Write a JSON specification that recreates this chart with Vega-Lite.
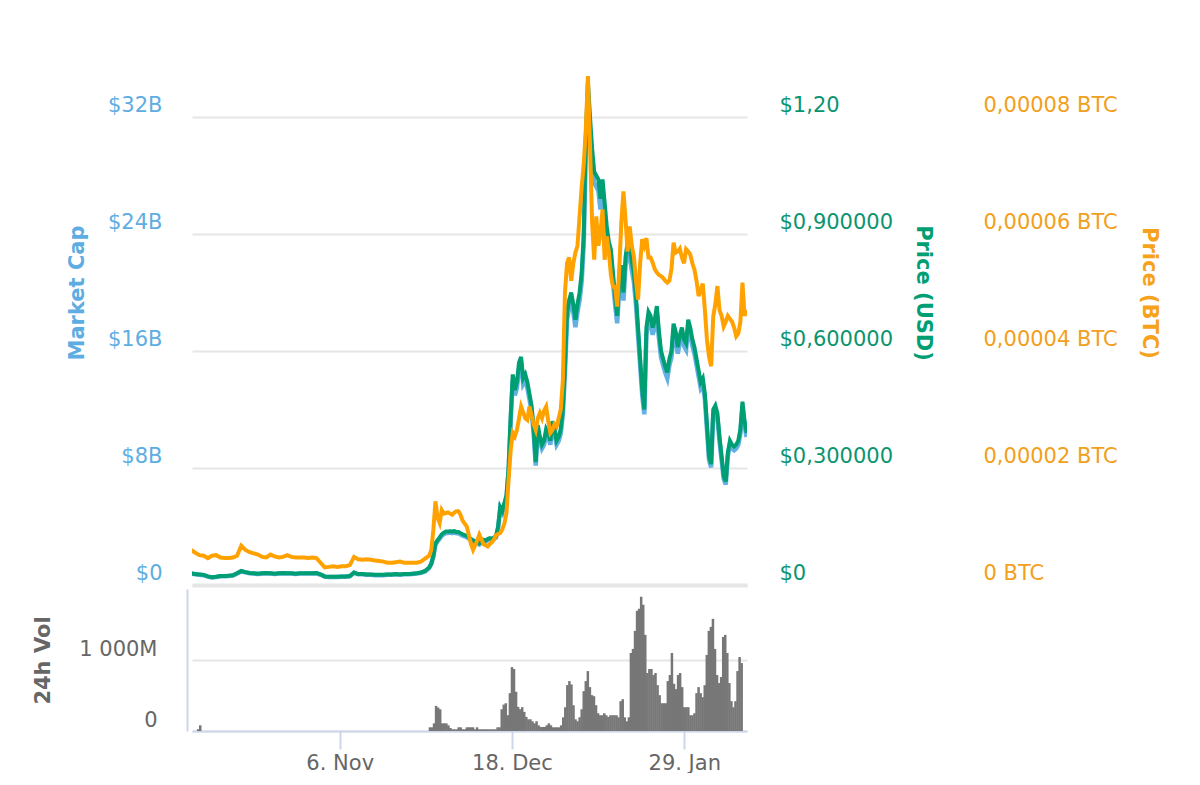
{
  "$schema": "https://vega.github.io/schema/vega-lite/v6.json",
  "padding": {"left": 32, "top": 0, "right": 12, "bottom": 0},
  "background": "white",
  "spacing": 4,
  "config": {"font": "DejaVu Sans", "view": {"stroke": null}},
  "datasets": {
    "price": [
      {"t": "2017-10-02T00:00:00Z", "usd": 0.030, "btc": 6.0e-6, "mc": 0.78},
      {"t": "2017-10-03T00:00:00Z", "usd": 0.028, "btc": 5.5e-6, "mc": 0.73},
      {"t": "2017-10-04T00:00:00Z", "usd": 0.027, "btc": 5.1e-6, "mc": 0.70},
      {"t": "2017-10-05T00:00:00Z", "usd": 0.026, "btc": 5.0e-6, "mc": 0.67},
      {"t": "2017-10-06T00:00:00Z", "usd": 0.022, "btc": 4.6e-6, "mc": 0.57},
      {"t": "2017-10-07T00:00:00Z", "usd": 0.020, "btc": 5.0e-6, "mc": 0.52},
      {"t": "2017-10-08T00:00:00Z", "usd": 0.021, "btc": 5.1e-6, "mc": 0.54},
      {"t": "2017-10-09T00:00:00Z", "usd": 0.023, "btc": 4.7e-6, "mc": 0.60},
      {"t": "2017-10-10T00:00:00Z", "usd": 0.023, "btc": 4.6e-6, "mc": 0.60},
      {"t": "2017-10-11T00:00:00Z", "usd": 0.024, "btc": 4.6e-6, "mc": 0.62},
      {"t": "2017-10-12T00:00:00Z", "usd": 0.025, "btc": 4.7e-6, "mc": 0.65},
      {"t": "2017-10-13T00:00:00Z", "usd": 0.030, "btc": 5.0e-6, "mc": 0.78},
      {"t": "2017-10-14T00:00:00Z", "usd": 0.036, "btc": 6.7e-6, "mc": 0.93},
      {"t": "2017-10-15T00:00:00Z", "usd": 0.033, "btc": 6.0e-6, "mc": 0.86},
      {"t": "2017-10-16T00:00:00Z", "usd": 0.031, "btc": 5.6e-6, "mc": 0.80},
      {"t": "2017-10-17T00:00:00Z", "usd": 0.030, "btc": 5.4e-6, "mc": 0.78},
      {"t": "2017-10-18T00:00:00Z", "usd": 0.029, "btc": 5.2e-6, "mc": 0.75},
      {"t": "2017-10-19T00:00:00Z", "usd": 0.030, "btc": 4.8e-6, "mc": 0.78},
      {"t": "2017-10-20T00:00:00Z", "usd": 0.031, "btc": 4.7e-6, "mc": 0.80},
      {"t": "2017-10-21T00:00:00Z", "usd": 0.030, "btc": 5.2e-6, "mc": 0.78},
      {"t": "2017-10-22T00:00:00Z", "usd": 0.029, "btc": 4.9e-6, "mc": 0.75},
      {"t": "2017-10-23T00:00:00Z", "usd": 0.030, "btc": 4.7e-6, "mc": 0.78},
      {"t": "2017-10-24T00:00:00Z", "usd": 0.031, "btc": 4.8e-6, "mc": 0.80},
      {"t": "2017-10-25T00:00:00Z", "usd": 0.030, "btc": 5.1e-6, "mc": 0.78},
      {"t": "2017-10-26T00:00:00Z", "usd": 0.030, "btc": 4.8e-6, "mc": 0.78},
      {"t": "2017-10-27T00:00:00Z", "usd": 0.029, "btc": 4.7e-6, "mc": 0.75},
      {"t": "2017-10-28T00:00:00Z", "usd": 0.030, "btc": 4.7e-6, "mc": 0.78},
      {"t": "2017-10-29T00:00:00Z", "usd": 0.030, "btc": 4.7e-6, "mc": 0.78},
      {"t": "2017-10-30T00:00:00Z", "usd": 0.030, "btc": 4.6e-6, "mc": 0.78},
      {"t": "2017-10-31T00:00:00Z", "usd": 0.030, "btc": 4.7e-6, "mc": 0.78},
      {"t": "2017-11-01T00:00:00Z", "usd": 0.031, "btc": 4.6e-6, "mc": 0.80},
      {"t": "2017-11-02T00:00:00Z", "usd": 0.027, "btc": 3.8e-6, "mc": 0.70},
      {"t": "2017-11-03T00:00:00Z", "usd": 0.022, "btc": 3.0e-6, "mc": 0.57},
      {"t": "2017-11-04T00:00:00Z", "usd": 0.021, "btc": 3.1e-6, "mc": 0.54},
      {"t": "2017-11-05T00:00:00Z", "usd": 0.021, "btc": 3.2e-6, "mc": 0.54},
      {"t": "2017-11-06T00:00:00Z", "usd": 0.021, "btc": 3.1e-6, "mc": 0.54},
      {"t": "2017-11-07T00:00:00Z", "usd": 0.022, "btc": 3.2e-6, "mc": 0.57},
      {"t": "2017-11-08T00:00:00Z", "usd": 0.022, "btc": 3.2e-6, "mc": 0.57},
      {"t": "2017-11-09T00:00:00Z", "usd": 0.023, "btc": 3.4e-6, "mc": 0.60},
      {"t": "2017-11-10T00:00:00Z", "usd": 0.032, "btc": 4.8e-6, "mc": 0.83},
      {"t": "2017-11-11T00:00:00Z", "usd": 0.028, "btc": 4.4e-6, "mc": 0.73},
      {"t": "2017-11-12T00:00:00Z", "usd": 0.028, "btc": 4.3e-6, "mc": 0.73},
      {"t": "2017-11-13T00:00:00Z", "usd": 0.027, "btc": 4.4e-6, "mc": 0.70},
      {"t": "2017-11-14T00:00:00Z", "usd": 0.027, "btc": 4.3e-6, "mc": 0.70},
      {"t": "2017-11-15T00:00:00Z", "usd": 0.026, "btc": 4.2e-6, "mc": 0.67},
      {"t": "2017-11-16T00:00:00Z", "usd": 0.026, "btc": 4.1e-6, "mc": 0.67},
      {"t": "2017-11-17T00:00:00Z", "usd": 0.026, "btc": 4.0e-6, "mc": 0.67},
      {"t": "2017-11-18T00:00:00Z", "usd": 0.027, "btc": 3.8e-6, "mc": 0.70},
      {"t": "2017-11-19T00:00:00Z", "usd": 0.027, "btc": 3.8e-6, "mc": 0.70},
      {"t": "2017-11-20T00:00:00Z", "usd": 0.028, "btc": 3.9e-6, "mc": 0.73},
      {"t": "2017-11-21T00:00:00Z", "usd": 0.027, "btc": 4.0e-6, "mc": 0.70},
      {"t": "2017-11-22T00:00:00Z", "usd": 0.028, "btc": 3.8e-6, "mc": 0.73},
      {"t": "2017-11-23T00:00:00Z", "usd": 0.028, "btc": 3.8e-6, "mc": 0.73},
      {"t": "2017-11-24T00:00:00Z", "usd": 0.029, "btc": 3.8e-6, "mc": 0.75},
      {"t": "2017-11-25T00:00:00Z", "usd": 0.030, "btc": 3.8e-6, "mc": 0.78},
      {"t": "2017-11-26T00:00:00Z", "usd": 0.032, "btc": 4.0e-6, "mc": 0.83},
      {"t": "2017-11-27T00:00:00Z", "usd": 0.036, "btc": 4.5e-6, "mc": 0.93},
      {"t": "2017-11-28T00:00:00Z", "usd": 0.045, "btc": 5.0e-6, "mc": 1.17},
      {"t": "2017-11-28T12:00:00Z", "usd": 0.055, "btc": 6.0e-6, "mc": 1.43},
      {"t": "2017-11-29T00:00:00Z", "usd": 0.075, "btc": 9.5e-6, "mc": 1.94},
      {"t": "2017-11-29T12:00:00Z", "usd": 0.107, "btc": 14.3e-6, "mc": 2.77},
      {"t": "2017-11-30T00:00:00Z", "usd": 0.115, "btc": 11.5e-6, "mc": 2.98},
      {"t": "2017-11-30T12:00:00Z", "usd": 0.122, "btc": 10.6e-6, "mc": 3.16},
      {"t": "2017-12-01T00:00:00Z", "usd": 0.130, "btc": 12.8e-6, "mc": 3.37},
      {"t": "2017-12-01T12:00:00Z", "usd": 0.134, "btc": 12.2e-6, "mc": 3.47},
      {"t": "2017-12-02T00:00:00Z", "usd": 0.137, "btc": 12.3e-6, "mc": 3.55},
      {"t": "2017-12-02T12:00:00Z", "usd": 0.137, "btc": 12.4e-6, "mc": 3.55},
      {"t": "2017-12-03T00:00:00Z", "usd": 0.138, "btc": 12.2e-6, "mc": 3.58},
      {"t": "2017-12-03T12:00:00Z", "usd": 0.137, "btc": 12.0e-6, "mc": 3.55},
      {"t": "2017-12-04T00:00:00Z", "usd": 0.138, "btc": 12.4e-6, "mc": 3.58},
      {"t": "2017-12-04T12:00:00Z", "usd": 0.136, "btc": 12.6e-6, "mc": 3.53},
      {"t": "2017-12-05T00:00:00Z", "usd": 0.136, "btc": 12.6e-6, "mc": 3.53},
      {"t": "2017-12-05T12:00:00Z", "usd": 0.133, "btc": 12.0e-6, "mc": 3.45},
      {"t": "2017-12-06T00:00:00Z", "usd": 0.130, "btc": 11.0e-6, "mc": 3.37},
      {"t": "2017-12-06T12:00:00Z", "usd": 0.128, "btc": 10.5e-6, "mc": 3.32},
      {"t": "2017-12-07T00:00:00Z", "usd": 0.126, "btc": 10.0e-6, "mc": 3.27},
      {"t": "2017-12-07T12:00:00Z", "usd": 0.122, "btc": 8.5e-6, "mc": 3.16},
      {"t": "2017-12-08T00:00:00Z", "usd": 0.118, "btc": 7.0e-6, "mc": 3.06},
      {"t": "2017-12-08T12:00:00Z", "usd": 0.115, "btc": 6.0e-6, "mc": 2.98},
      {"t": "2017-12-09T00:00:00Z", "usd": 0.112, "btc": 6.8e-6, "mc": 2.90},
      {"t": "2017-12-09T12:00:00Z", "usd": 0.110, "btc": 7.6e-6, "mc": 2.85},
      {"t": "2017-12-10T00:00:00Z", "usd": 0.107, "btc": 8.6e-6, "mc": 2.77},
      {"t": "2017-12-10T12:00:00Z", "usd": 0.112, "btc": 7.8e-6, "mc": 2.90},
      {"t": "2017-12-11T00:00:00Z", "usd": 0.116, "btc": 7.0e-6, "mc": 3.01},
      {"t": "2017-12-11T12:00:00Z", "usd": 0.114, "btc": 6.8e-6, "mc": 2.96},
      {"t": "2017-12-12T00:00:00Z", "usd": 0.118, "btc": 6.6e-6, "mc": 3.06},
      {"t": "2017-12-12T12:00:00Z", "usd": 0.120, "btc": 7.0e-6, "mc": 3.11},
      {"t": "2017-12-13T00:00:00Z", "usd": 0.118, "btc": 7.3e-6, "mc": 3.06},
      {"t": "2017-12-13T12:00:00Z", "usd": 0.122, "btc": 7.8e-6, "mc": 3.16},
      {"t": "2017-12-14T00:00:00Z", "usd": 0.125, "btc": 8.5e-6, "mc": 3.24},
      {"t": "2017-12-14T12:00:00Z", "usd": 0.150, "btc": 8.7e-6, "mc": 3.89},
      {"t": "2017-12-15T00:00:00Z", "usd": 0.200, "btc": 8.9e-6, "mc": 5.19},
      {"t": "2017-12-15T12:00:00Z", "usd": 0.190, "btc": 9.5e-6, "mc": 4.93},
      {"t": "2017-12-16T00:00:00Z", "usd": 0.210, "btc": 10.5e-6, "mc": 5.45},
      {"t": "2017-12-16T12:00:00Z", "usd": 0.230, "btc": 12.3e-6, "mc": 5.96},
      {"t": "2017-12-17T00:00:00Z", "usd": 0.300, "btc": 18.0e-6, "mc": 7.78},
      {"t": "2017-12-17T12:00:00Z", "usd": 0.430, "btc": 23.0e-6, "mc": 11.15},
      {"t": "2017-12-18T00:00:00Z", "usd": 0.540, "btc": 26.0e-6, "mc": 14.00},
      {"t": "2017-12-18T12:00:00Z", "usd": 0.500, "btc": 25.4e-6, "mc": 12.97},
      {"t": "2017-12-19T00:00:00Z", "usd": 0.520, "btc": 26.5e-6, "mc": 13.48},
      {"t": "2017-12-19T12:00:00Z", "usd": 0.570, "btc": 28.5e-6, "mc": 14.78},
      {"t": "2017-12-20T00:00:00Z", "usd": 0.585, "btc": 30.5e-6, "mc": 15.17},
      {"t": "2017-12-20T12:00:00Z", "usd": 0.530, "btc": 29.5e-6, "mc": 13.74},
      {"t": "2017-12-21T00:00:00Z", "usd": 0.540, "btc": 28.5e-6, "mc": 14.00},
      {"t": "2017-12-21T12:00:00Z", "usd": 0.520, "btc": 28.2e-6, "mc": 13.48},
      {"t": "2017-12-22T00:00:00Z", "usd": 0.490, "btc": 30.5e-6, "mc": 12.71},
      {"t": "2017-12-22T12:00:00Z", "usd": 0.460, "btc": 29.0e-6, "mc": 11.93},
      {"t": "2017-12-23T00:00:00Z", "usd": 0.400, "btc": 27.5e-6, "mc": 10.37},
      {"t": "2017-12-23T12:00:00Z", "usd": 0.315, "btc": 26.5e-6, "mc": 8.17},
      {"t": "2017-12-24T00:00:00Z", "usd": 0.410, "btc": 28.5e-6, "mc": 10.63},
      {"t": "2017-12-24T12:00:00Z", "usd": 0.380, "btc": 29.4e-6, "mc": 9.85},
      {"t": "2017-12-25T00:00:00Z", "usd": 0.360, "btc": 28.5e-6, "mc": 9.33},
      {"t": "2017-12-25T12:00:00Z", "usd": 0.370, "btc": 29.8e-6, "mc": 9.59},
      {"t": "2017-12-26T00:00:00Z", "usd": 0.400, "btc": 30.5e-6, "mc": 10.37},
      {"t": "2017-12-26T12:00:00Z", "usd": 0.390, "btc": 28.0e-6, "mc": 10.11},
      {"t": "2017-12-27T00:00:00Z", "usd": 0.370, "btc": 26.0e-6, "mc": 9.59},
      {"t": "2017-12-27T12:00:00Z", "usd": 0.420, "btc": 26.5e-6, "mc": 10.89},
      {"t": "2017-12-28T00:00:00Z", "usd": 0.400, "btc": 27.5e-6, "mc": 10.37},
      {"t": "2017-12-28T12:00:00Z", "usd": 0.370, "btc": 27.1e-6, "mc": 9.59},
      {"t": "2017-12-29T00:00:00Z", "usd": 0.380, "btc": 28.5e-6, "mc": 9.85},
      {"t": "2017-12-29T12:00:00Z", "usd": 0.400, "btc": 30.0e-6, "mc": 10.37},
      {"t": "2017-12-30T00:00:00Z", "usd": 0.450, "btc": 35.0e-6, "mc": 11.67},
      {"t": "2017-12-30T12:00:00Z", "usd": 0.560, "btc": 50.0e-6, "mc": 14.52},
      {"t": "2017-12-31T00:00:00Z", "usd": 0.700, "btc": 55.0e-6, "mc": 18.15},
      {"t": "2017-12-31T12:00:00Z", "usd": 0.730, "btc": 56.0e-6, "mc": 18.93},
      {"t": "2018-01-01T00:00:00Z", "usd": 0.750, "btc": 52.0e-6, "mc": 19.45},
      {"t": "2018-01-01T12:00:00Z", "usd": 0.720, "btc": 55.0e-6, "mc": 18.67},
      {"t": "2018-01-02T00:00:00Z", "usd": 0.680, "btc": 56.8e-6, "mc": 17.63},
      {"t": "2018-01-02T12:00:00Z", "usd": 0.720, "btc": 58.0e-6, "mc": 18.67},
      {"t": "2018-01-03T00:00:00Z", "usd": 0.750, "btc": 63.0e-6, "mc": 19.45},
      {"t": "2018-01-03T12:00:00Z", "usd": 0.800, "btc": 68.0e-6, "mc": 20.74},
      {"t": "2018-01-04T00:00:00Z", "usd": 0.900, "btc": 72.0e-6, "mc": 23.34},
      {"t": "2018-01-04T12:00:00Z", "usd": 1.150, "btc": 78.0e-6, "mc": 29.82},
      {"t": "2018-01-05T00:00:00Z", "usd": 1.290, "btc": 87.0e-6, "mc": 33.45},
      {"t": "2018-01-05T12:00:00Z", "usd": 1.200, "btc": 75.0e-6, "mc": 31.12},
      {"t": "2018-01-06T00:00:00Z", "usd": 1.120, "btc": 62.0e-6, "mc": 29.04},
      {"t": "2018-01-06T12:00:00Z", "usd": 1.060, "btc": 55.6e-6, "mc": 27.49},
      {"t": "2018-01-07T00:00:00Z", "usd": 1.050, "btc": 63.0e-6, "mc": 27.23},
      {"t": "2018-01-07T12:00:00Z", "usd": 1.040, "btc": 58.0e-6, "mc": 26.97},
      {"t": "2018-01-08T00:00:00Z", "usd": 0.990, "btc": 60.2e-6, "mc": 25.67},
      {"t": "2018-01-08T12:00:00Z", "usd": 1.040, "btc": 64.2e-6, "mc": 26.97},
      {"t": "2018-01-09T00:00:00Z", "usd": 0.980, "btc": 55.6e-6, "mc": 25.41},
      {"t": "2018-01-09T12:00:00Z", "usd": 0.920, "btc": 59.6e-6, "mc": 23.86},
      {"t": "2018-01-10T00:00:00Z", "usd": 0.880, "btc": 57.0e-6, "mc": 22.82},
      {"t": "2018-01-10T12:00:00Z", "usd": 0.860, "btc": 53.0e-6, "mc": 22.30},
      {"t": "2018-01-11T00:00:00Z", "usd": 0.800, "btc": 51.0e-6, "mc": 20.74},
      {"t": "2018-01-11T12:00:00Z", "usd": 0.740, "btc": 51.0e-6, "mc": 19.19},
      {"t": "2018-01-12T00:00:00Z", "usd": 0.690, "btc": 47.6e-6, "mc": 17.89},
      {"t": "2018-01-12T12:00:00Z", "usd": 0.780, "btc": 54.0e-6, "mc": 20.23},
      {"t": "2018-01-13T00:00:00Z", "usd": 0.820, "btc": 62.0e-6, "mc": 21.26},
      {"t": "2018-01-13T12:00:00Z", "usd": 0.750, "btc": 67.3e-6, "mc": 19.45},
      {"t": "2018-01-14T00:00:00Z", "usd": 0.840, "btc": 62.5e-6, "mc": 21.78},
      {"t": "2018-01-14T12:00:00Z", "usd": 0.880, "btc": 57.0e-6, "mc": 22.82},
      {"t": "2018-01-15T00:00:00Z", "usd": 0.870, "btc": 61.3e-6, "mc": 22.56},
      {"t": "2018-01-15T12:00:00Z", "usd": 0.830, "btc": 58.0e-6, "mc": 21.52},
      {"t": "2018-01-16T00:00:00Z", "usd": 0.800, "btc": 56.2e-6, "mc": 20.74},
      {"t": "2018-01-16T12:00:00Z", "usd": 0.740, "btc": 52.0e-6, "mc": 19.19},
      {"t": "2018-01-17T00:00:00Z", "usd": 0.660, "btc": 48.8e-6, "mc": 17.11},
      {"t": "2018-01-17T12:00:00Z", "usd": 0.580, "btc": 55.0e-6, "mc": 15.04},
      {"t": "2018-01-18T00:00:00Z", "usd": 0.500, "btc": 59.1e-6, "mc": 12.97},
      {"t": "2018-01-18T12:00:00Z", "usd": 0.450, "btc": 58.0e-6, "mc": 11.67},
      {"t": "2018-01-19T00:00:00Z", "usd": 0.660, "btc": 59.3e-6, "mc": 17.11},
      {"t": "2018-01-19T12:00:00Z", "usd": 0.700, "btc": 56.0e-6, "mc": 18.15},
      {"t": "2018-01-20T00:00:00Z", "usd": 0.690, "btc": 56.0e-6, "mc": 17.89},
      {"t": "2018-01-20T12:00:00Z", "usd": 0.660, "btc": 55.1e-6, "mc": 17.11},
      {"t": "2018-01-21T00:00:00Z", "usd": 0.680, "btc": 54.0e-6, "mc": 17.63},
      {"t": "2018-01-21T12:00:00Z", "usd": 0.715, "btc": 53.4e-6, "mc": 18.54},
      {"t": "2018-01-22T00:00:00Z", "usd": 0.650, "btc": 53.0e-6, "mc": 16.85},
      {"t": "2018-01-22T12:00:00Z", "usd": 0.600, "btc": 52.8e-6, "mc": 15.56},
      {"t": "2018-01-23T00:00:00Z", "usd": 0.580, "btc": 52.5e-6, "mc": 15.04},
      {"t": "2018-01-23T12:00:00Z", "usd": 0.560, "btc": 52.0e-6, "mc": 14.52},
      {"t": "2018-01-24T00:00:00Z", "usd": 0.545, "btc": 51.7e-6, "mc": 14.13},
      {"t": "2018-01-24T12:00:00Z", "usd": 0.580, "btc": 52.0e-6, "mc": 15.04},
      {"t": "2018-01-25T00:00:00Z", "usd": 0.600, "btc": 54.0e-6, "mc": 15.56},
      {"t": "2018-01-25T12:00:00Z", "usd": 0.670, "btc": 58.5e-6, "mc": 17.37},
      {"t": "2018-01-26T00:00:00Z", "usd": 0.650, "btc": 56.8e-6, "mc": 16.85},
      {"t": "2018-01-26T12:00:00Z", "usd": 0.610, "btc": 57.0e-6, "mc": 15.82},
      {"t": "2018-01-27T00:00:00Z", "usd": 0.640, "btc": 57.5e-6, "mc": 16.60},
      {"t": "2018-01-27T12:00:00Z", "usd": 0.660, "btc": 56.0e-6, "mc": 17.11},
      {"t": "2018-01-28T00:00:00Z", "usd": 0.630, "btc": 55.0e-6, "mc": 16.34},
      {"t": "2018-01-28T12:00:00Z", "usd": 0.620, "btc": 57.4e-6, "mc": 16.08},
      {"t": "2018-01-29T00:00:00Z", "usd": 0.680, "btc": 57.0e-6, "mc": 17.63},
      {"t": "2018-01-29T12:00:00Z", "usd": 0.660, "btc": 56.5e-6, "mc": 17.11},
      {"t": "2018-01-30T00:00:00Z", "usd": 0.630, "btc": 55.0e-6, "mc": 16.34},
      {"t": "2018-01-30T12:00:00Z", "usd": 0.610, "btc": 53.9e-6, "mc": 15.82},
      {"t": "2018-01-31T00:00:00Z", "usd": 0.580, "btc": 52.0e-6, "mc": 15.04},
      {"t": "2018-01-31T12:00:00Z", "usd": 0.550, "btc": 49.4e-6, "mc": 14.26},
      {"t": "2018-02-01T00:00:00Z", "usd": 0.520, "btc": 50.5e-6, "mc": 13.48},
      {"t": "2018-02-01T12:00:00Z", "usd": 0.530, "btc": 51.5e-6, "mc": 13.74},
      {"t": "2018-02-02T00:00:00Z", "usd": 0.490, "btc": 47.0e-6, "mc": 12.71},
      {"t": "2018-02-02T12:00:00Z", "usd": 0.410, "btc": 41.9e-6, "mc": 10.63},
      {"t": "2018-02-03T00:00:00Z", "usd": 0.330, "btc": 39.0e-6, "mc": 8.56},
      {"t": "2018-02-03T12:00:00Z", "usd": 0.310, "btc": 37.4e-6, "mc": 8.04},
      {"t": "2018-02-04T00:00:00Z", "usd": 0.450, "btc": 45.9e-6, "mc": 11.67},
      {"t": "2018-02-04T12:00:00Z", "usd": 0.460, "btc": 48.0e-6, "mc": 11.93},
      {"t": "2018-02-05T00:00:00Z", "usd": 0.440, "btc": 51.1e-6, "mc": 11.41},
      {"t": "2018-02-05T12:00:00Z", "usd": 0.380, "btc": 47.0e-6, "mc": 9.85},
      {"t": "2018-02-06T00:00:00Z", "usd": 0.330, "btc": 46.0e-6, "mc": 8.56},
      {"t": "2018-02-06T12:00:00Z", "usd": 0.280, "btc": 44.2e-6, "mc": 7.26},
      {"t": "2018-02-07T00:00:00Z", "usd": 0.265, "btc": 45.0e-6, "mc": 6.87},
      {"t": "2018-02-07T12:00:00Z", "usd": 0.340, "btc": 46.0e-6, "mc": 8.82},
      {"t": "2018-02-08T00:00:00Z", "usd": 0.370, "btc": 45.5e-6, "mc": 9.59},
      {"t": "2018-02-08T12:00:00Z", "usd": 0.360, "btc": 45.0e-6, "mc": 9.33},
      {"t": "2018-02-09T00:00:00Z", "usd": 0.355, "btc": 44.0e-6, "mc": 9.21},
      {"t": "2018-02-09T12:00:00Z", "usd": 0.360, "btc": 42.5e-6, "mc": 9.33},
      {"t": "2018-02-10T00:00:00Z", "usd": 0.370, "btc": 43.0e-6, "mc": 9.59},
      {"t": "2018-02-10T12:00:00Z", "usd": 0.400, "btc": 45.0e-6, "mc": 10.37},
      {"t": "2018-02-11T00:00:00Z", "usd": 0.470, "btc": 51.7e-6, "mc": 12.19},
      {"t": "2018-02-11T12:00:00Z", "usd": 0.420, "btc": 46.0e-6, "mc": 10.89},
      {"t": "2018-02-12T00:00:00Z", "usd": 0.390, "btc": 47.0e-6, "mc": 10.11}
    ],
    "vol": [
      {"t": "2017-10-02T12:00:00Z", "v": 25},
      {"t": "2017-10-03T00:00:00Z", "v": 80},
      {"t": "2017-11-28T00:00:00Z", "v": 52},
      {"t": "2017-11-28T12:00:00Z", "v": 52},
      {"t": "2017-11-29T00:00:00Z", "v": 108},
      {"t": "2017-11-29T12:00:00Z", "v": 354},
      {"t": "2017-11-30T00:00:00Z", "v": 330},
      {"t": "2017-11-30T12:00:00Z", "v": 306},
      {"t": "2017-12-01T00:00:00Z", "v": 108},
      {"t": "2017-12-01T12:00:00Z", "v": 108},
      {"t": "2017-12-02T00:00:00Z", "v": 108},
      {"t": "2017-12-02T12:00:00Z", "v": 80},
      {"t": "2017-12-03T00:00:00Z", "v": 42},
      {"t": "2017-12-03T12:00:00Z", "v": 24},
      {"t": "2017-12-04T00:00:00Z", "v": 24},
      {"t": "2017-12-04T12:00:00Z", "v": 24},
      {"t": "2017-12-05T00:00:00Z", "v": 52},
      {"t": "2017-12-05T12:00:00Z", "v": 52},
      {"t": "2017-12-06T00:00:00Z", "v": 24},
      {"t": "2017-12-06T12:00:00Z", "v": 24},
      {"t": "2017-12-07T00:00:00Z", "v": 52},
      {"t": "2017-12-07T12:00:00Z", "v": 52},
      {"t": "2017-12-08T00:00:00Z", "v": 52},
      {"t": "2017-12-08T12:00:00Z", "v": 52},
      {"t": "2017-12-09T00:00:00Z", "v": 24},
      {"t": "2017-12-09T12:00:00Z", "v": 52},
      {"t": "2017-12-10T00:00:00Z", "v": 24},
      {"t": "2017-12-10T12:00:00Z", "v": 24},
      {"t": "2017-12-11T00:00:00Z", "v": 24},
      {"t": "2017-12-11T12:00:00Z", "v": 24},
      {"t": "2017-12-12T00:00:00Z", "v": 24},
      {"t": "2017-12-12T12:00:00Z", "v": 24},
      {"t": "2017-12-13T00:00:00Z", "v": 24},
      {"t": "2017-12-13T12:00:00Z", "v": 24},
      {"t": "2017-12-14T00:00:00Z", "v": 24},
      {"t": "2017-12-14T12:00:00Z", "v": 52},
      {"t": "2017-12-15T00:00:00Z", "v": 52},
      {"t": "2017-12-15T12:00:00Z", "v": 306},
      {"t": "2017-12-16T00:00:00Z", "v": 372},
      {"t": "2017-12-16T12:00:00Z", "v": 391},
      {"t": "2017-12-17T00:00:00Z", "v": 222},
      {"t": "2017-12-17T12:00:00Z", "v": 533},
      {"t": "2017-12-18T00:00:00Z", "v": 900},
      {"t": "2017-12-18T12:00:00Z", "v": 873},
      {"t": "2017-12-19T00:00:00Z", "v": 552},
      {"t": "2017-12-19T12:00:00Z", "v": 340},
      {"t": "2017-12-20T00:00:00Z", "v": 306},
      {"t": "2017-12-20T12:00:00Z", "v": 335},
      {"t": "2017-12-21T00:00:00Z", "v": 269},
      {"t": "2017-12-21T12:00:00Z", "v": 198},
      {"t": "2017-12-22T00:00:00Z", "v": 165},
      {"t": "2017-12-22T12:00:00Z", "v": 165},
      {"t": "2017-12-23T00:00:00Z", "v": 137},
      {"t": "2017-12-23T12:00:00Z", "v": 108},
      {"t": "2017-12-24T00:00:00Z", "v": 137},
      {"t": "2017-12-24T12:00:00Z", "v": 80},
      {"t": "2017-12-25T00:00:00Z", "v": 57},
      {"t": "2017-12-25T12:00:00Z", "v": 57},
      {"t": "2017-12-26T00:00:00Z", "v": 57},
      {"t": "2017-12-26T12:00:00Z", "v": 80},
      {"t": "2017-12-27T00:00:00Z", "v": 108},
      {"t": "2017-12-27T12:00:00Z", "v": 80},
      {"t": "2017-12-28T00:00:00Z", "v": 52},
      {"t": "2017-12-28T12:00:00Z", "v": 52},
      {"t": "2017-12-29T00:00:00Z", "v": 52},
      {"t": "2017-12-29T12:00:00Z", "v": 52},
      {"t": "2017-12-30T00:00:00Z", "v": 80},
      {"t": "2017-12-30T12:00:00Z", "v": 193},
      {"t": "2017-12-31T00:00:00Z", "v": 335},
      {"t": "2017-12-31T12:00:00Z", "v": 646},
      {"t": "2018-01-01T00:00:00Z", "v": 703},
      {"t": "2018-01-01T12:00:00Z", "v": 656},
      {"t": "2018-01-02T00:00:00Z", "v": 363},
      {"t": "2018-01-02T12:00:00Z", "v": 165},
      {"t": "2018-01-03T00:00:00Z", "v": 137},
      {"t": "2018-01-03T12:00:00Z", "v": 193},
      {"t": "2018-01-04T00:00:00Z", "v": 306},
      {"t": "2018-01-04T12:00:00Z", "v": 561},
      {"t": "2018-01-05T00:00:00Z", "v": 703},
      {"t": "2018-01-05T12:00:00Z", "v": 844},
      {"t": "2018-01-06T00:00:00Z", "v": 618},
      {"t": "2018-01-06T12:00:00Z", "v": 505},
      {"t": "2018-01-07T00:00:00Z", "v": 490},
      {"t": "2018-01-07T12:00:00Z", "v": 363},
      {"t": "2018-01-08T00:00:00Z", "v": 250},
      {"t": "2018-01-08T12:00:00Z", "v": 222},
      {"t": "2018-01-09T00:00:00Z", "v": 222},
      {"t": "2018-01-09T12:00:00Z", "v": 250},
      {"t": "2018-01-10T00:00:00Z", "v": 222},
      {"t": "2018-01-10T12:00:00Z", "v": 198},
      {"t": "2018-01-11T00:00:00Z", "v": 222},
      {"t": "2018-01-11T12:00:00Z", "v": 222},
      {"t": "2018-01-12T00:00:00Z", "v": 222},
      {"t": "2018-01-12T12:00:00Z", "v": 222},
      {"t": "2018-01-13T00:00:00Z", "v": 193},
      {"t": "2018-01-13T12:00:00Z", "v": 420},
      {"t": "2018-01-14T00:00:00Z", "v": 448},
      {"t": "2018-01-14T12:00:00Z", "v": 193},
      {"t": "2018-01-15T00:00:00Z", "v": 137},
      {"t": "2018-01-15T12:00:00Z", "v": 193},
      {"t": "2018-01-16T00:00:00Z", "v": 1099},
      {"t": "2018-01-16T12:00:00Z", "v": 1156},
      {"t": "2018-01-17T00:00:00Z", "v": 1410},
      {"t": "2018-01-17T12:00:00Z", "v": 1693},
      {"t": "2018-01-18T00:00:00Z", "v": 1722},
      {"t": "2018-01-18T12:00:00Z", "v": 1891},
      {"t": "2018-01-19T00:00:00Z", "v": 1778},
      {"t": "2018-01-19T12:00:00Z", "v": 1354},
      {"t": "2018-01-20T00:00:00Z", "v": 816},
      {"t": "2018-01-20T12:00:00Z", "v": 873},
      {"t": "2018-01-21T00:00:00Z", "v": 873},
      {"t": "2018-01-21T12:00:00Z", "v": 788},
      {"t": "2018-01-22T00:00:00Z", "v": 816},
      {"t": "2018-01-22T12:00:00Z", "v": 646},
      {"t": "2018-01-23T00:00:00Z", "v": 505},
      {"t": "2018-01-23T12:00:00Z", "v": 391},
      {"t": "2018-01-24T00:00:00Z", "v": 391},
      {"t": "2018-01-24T12:00:00Z", "v": 391},
      {"t": "2018-01-25T00:00:00Z", "v": 703},
      {"t": "2018-01-25T12:00:00Z", "v": 788},
      {"t": "2018-01-26T00:00:00Z", "v": 1099},
      {"t": "2018-01-26T12:00:00Z", "v": 665},
      {"t": "2018-01-27T00:00:00Z", "v": 590},
      {"t": "2018-01-27T12:00:00Z", "v": 788},
      {"t": "2018-01-28T00:00:00Z", "v": 816},
      {"t": "2018-01-28T12:00:00Z", "v": 618},
      {"t": "2018-01-29T00:00:00Z", "v": 335},
      {"t": "2018-01-29T12:00:00Z", "v": 335},
      {"t": "2018-01-30T00:00:00Z", "v": 335},
      {"t": "2018-01-30T12:00:00Z", "v": 222},
      {"t": "2018-01-31T00:00:00Z", "v": 222},
      {"t": "2018-01-31T12:00:00Z", "v": 250},
      {"t": "2018-02-01T00:00:00Z", "v": 533},
      {"t": "2018-02-01T12:00:00Z", "v": 618},
      {"t": "2018-02-02T00:00:00Z", "v": 533},
      {"t": "2018-02-02T12:00:00Z", "v": 476},
      {"t": "2018-02-03T00:00:00Z", "v": 646},
      {"t": "2018-02-03T12:00:00Z", "v": 1071},
      {"t": "2018-02-04T00:00:00Z", "v": 1410},
      {"t": "2018-02-04T12:00:00Z", "v": 1467},
      {"t": "2018-02-05T00:00:00Z", "v": 1580},
      {"t": "2018-02-05T12:00:00Z", "v": 1156},
      {"t": "2018-02-06T00:00:00Z", "v": 788},
      {"t": "2018-02-06T12:00:00Z", "v": 675},
      {"t": "2018-02-07T00:00:00Z", "v": 760},
      {"t": "2018-02-07T12:00:00Z", "v": 1325},
      {"t": "2018-02-08T00:00:00Z", "v": 1354},
      {"t": "2018-02-08T12:00:00Z", "v": 1099},
      {"t": "2018-02-09T00:00:00Z", "v": 675},
      {"t": "2018-02-09T12:00:00Z", "v": 420},
      {"t": "2018-02-10T00:00:00Z", "v": 335},
      {"t": "2018-02-10T12:00:00Z", "v": 420},
      {"t": "2018-02-11T00:00:00Z", "v": 844},
      {"t": "2018-02-11T12:00:00Z", "v": 1042},
      {"t": "2018-02-12T00:00:00Z", "v": 957}
    ]
  },
  "vconcat": [
    {
      "width": 555,
      "height": 585,
      "data": {"name": "price"},
      "layer": [
        {
          "mark": {"type": "line", "color": "#63b0e3", "strokeWidth": 4.5, "clip": true},
          "encoding": {
            "x": {"field": "t", "type": "temporal",
              "scale": {"type": "utc", "domain": [{"year": 2017, "month": 10, "date": 2, "hours": 5, "utc": true}, {"year": 2018, "month": 2, "date": 12, "hours": 2, "utc": true}]},
              "axis": {"domain": true, "domainColor": "#e6e6e6", "domainWidth": 4, "labels": false, "ticks": false, "grid": false, "title": null}},
            "y": {"field": "mc", "type": "quantitative",
              "scale": {"domain": [0, 40], "nice": false, "zero": true},
              "axis": {"orient": "left", "values": [0, 8, 16, 24, 32], "title": "Market Cap",
                "titleColor": "#5eade2", "titleFontSize": 21, "titleFontWeight": "bold", "titlePadding": 20,
                "labelColor": "#5eade2", "labelFontSize": 21, "labelPadding": 30, "labelOffset": -12,
                "labelExpr": "datum.value == 0 ? '$0' : '$' + datum.value + 'B'",
                "domain": false, "ticks": false, "grid": true, "gridColor": "#e6e6e6", "gridWidth": 2}}
          }
        },
        {
          "mark": {"type": "line", "color": "#009e73", "strokeWidth": 4, "clip": true},
          "encoding": {
            "x": {"field": "t", "type": "temporal"},
            "y": {"field": "usd", "type": "quantitative",
              "scale": {"domain": [0, 1.5], "nice": false},
              "axis": {"orient": "right", "values": [0, 0.3, 0.6, 0.9, 1.2], "title": "Price (USD)",
                "titleColor": "#009e73", "titleFontSize": 21, "titleFontWeight": "bold", "titlePadding": 20,
                "labelColor": "#0b9470", "labelFontSize": 21, "labelPadding": 32, "labelOffset": -12,
                "labelExpr": "datum.value == 0 ? '$0' : datum.value >= 1.2 ? '$1,20' : '$' + replace(format(datum.value, '.6f'), '.', ',')",
                "domain": false, "ticks": false, "grid": false}}
          }
        },
        {
          "mark": {"type": "line", "color": "#ffa200", "strokeWidth": 4, "clip": true},
          "encoding": {
            "x": {"field": "t", "type": "temporal"},
            "y": {"field": "btc", "type": "quantitative",
              "scale": {"domain": [0, 0.0001], "nice": false},
              "axis": {"orient": "right", "offset": 204, "values": [0, 0.00002, 0.00004, 0.00006, 0.00008], "title": "Price (BTC)",
                "titleColor": "#f7a21b", "titleFontSize": 21, "titleFontWeight": "bold", "titlePadding": 21,
                "labelColor": "#f29f1c", "labelFontSize": 21, "labelPadding": 32, "labelOffset": -12,
                "labelExpr": "datum.value == 0 ? '0 BTC' : replace(format(datum.value, '.5f'), '.', ',') + ' BTC'",
                "domain": false, "ticks": false, "grid": false}}
          }
        }
      ],
      "resolve": {"scale": {"y": "independent"}, "axis": {"y": "independent"}}
    },
    {
      "width": 555,
      "height": 142,
      "data": {"name": "vol"},
      "mark": {"type": "bar", "color": "#777777", "size": 2.5, "clip": true},
      "encoding": {
        "x": {"field": "t", "type": "temporal",
          "scale": {"type": "utc", "domain": [{"year": 2017, "month": 10, "date": 2, "hours": 5, "utc": true}, {"year": 2018, "month": 2, "date": 12, "hours": 2, "utc": true}]},
          "axis": {"values": [{"year": 2017, "month": 11, "date": 6, "utc": true}, {"year": 2017, "month": 12, "date": 18, "utc": true}, {"year": 2018, "month": 1, "date": 29, "utc": true}],
            "labelExpr": "utcFormat(datum.value, '%-d. %b')",
            "domainColor": "#ccd6eb", "domainWidth": 2, "tickColor": "#ccd6eb", "tickWidth": 2, "tickSize": 18,
            "labelColor": "#666666", "labelFontSize": 21, "labelPadding": 3, "grid": false, "title": null}},
        "y": {"field": "v", "type": "quantitative",
          "scale": {"domain": [0, 2000], "nice": false},
          "axis": {"values": [0, 1000], "title": "24h Vol", "titleColor": "#666666", "titleFontSize": 21, "titleFontWeight": "bold", "titlePadding": 25,
            "labelColor": "#666666", "labelFontSize": 21, "labelPadding": 30, "labelOffset": -11,
            "labelExpr": "datum.value == 0 ? '0' : '1 000M'",
            "domain": true, "domainColor": "#ccd6eb", "domainWidth": 2, "offset": 5, "ticks": false,
            "grid": true, "gridColor": "#e6e6e6", "gridWidth": 2}}
      }
    }
  ],
  "resolve": {"scale": {"x": "independent", "y": "independent"}}
}
